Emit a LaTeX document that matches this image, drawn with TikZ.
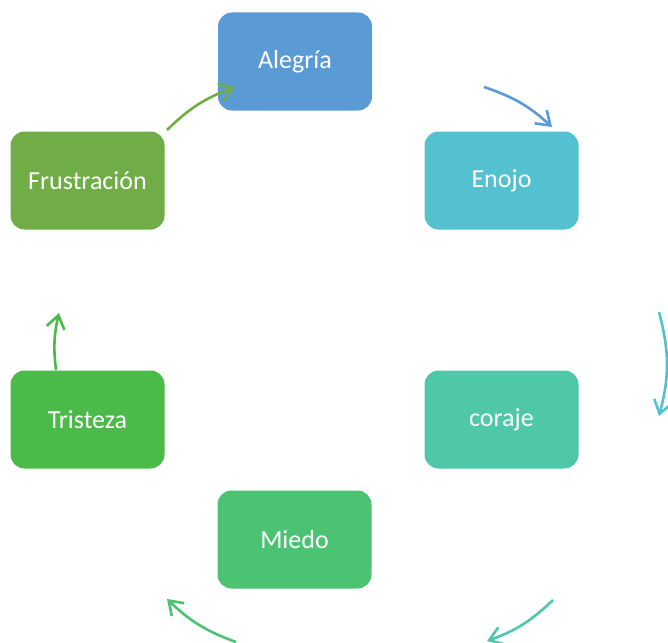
\documentclass[tikz,border=0pt]{standalone}
\usepackage{fontspec}
\setmainfont{Carlito}
\usetikzlibrary{arrows.meta}
\definecolor{cAlegria}{HTML}{5B9BD5}
\definecolor{cEnojo}{HTML}{53C1CF}
\definecolor{cCoraje}{HTML}{4FC8A9}
\definecolor{cMiedo}{HTML}{4BC373}
\definecolor{cTristeza}{HTML}{4ABA48}
\definecolor{cFrustracion}{HTML}{70AD47}
\tikzset{
  emo/.style={rectangle, rounded corners=14pt, minimum width=154pt, minimum height=98pt, text=white, font=\fontsize{26}{30}\selectfont, inner sep=0pt},
  cyc/.style={line width=2.6pt, -{Straight Barb[length=13pt,width=18pt]}}
}
\begin{document}
\begin{tikzpicture}[x=1pt,y=-1pt]
\useasboundingbox (0,0) rectangle (668,642);
\node[emo, fill=cAlegria] (alegria) at (295,61.5){Alegría};
\node[emo, fill=cEnojo] (enojo) at (501.5,180.5){Enojo};
\node[emo, fill=cCoraje] (coraje) at (501.5,419.5){coraje};
\node[emo, fill=cMiedo] (miedo) at (294.5,539.5){Miedo};
\node[emo, fill=cTristeza] (tristeza) at (87.5,419.5){Tristeza};
\node[emo, fill=cFrustracion] (frustracion) at (87.5,180.5){Frustración};
\coordinate (a1) at (484,87);
\coordinate (a2) at (552,127);
\coordinate (e1) at (659,312);
\coordinate (e2) at (659,416);
\coordinate (c1) at (553,600);
\coordinate (c2) at (487,641);
\coordinate (m1) at (236,642);
\coordinate (m2) at (167,599);
\coordinate (t1) at (56,370);
\coordinate (t2) at (59,313);
\coordinate (f1) at (167,130);
\coordinate (f2) at (235,87);
\draw[cyc, cAlegria](a1) to[bend left=12] (a2);
\draw[cyc, cEnojo](e1) to[bend left=15] (e2);
\draw[cyc, cCoraje](c1) to[bend left=12] (c2);
\draw[cyc, cMiedo](m1) to[bend left=12] (m2);
\draw[cyc, cTristeza](t1) to[bend left=10] (t2);
\draw[cyc, cFrustracion](f1) to[bend left=12] (f2);

\end{tikzpicture}
\end{document}
